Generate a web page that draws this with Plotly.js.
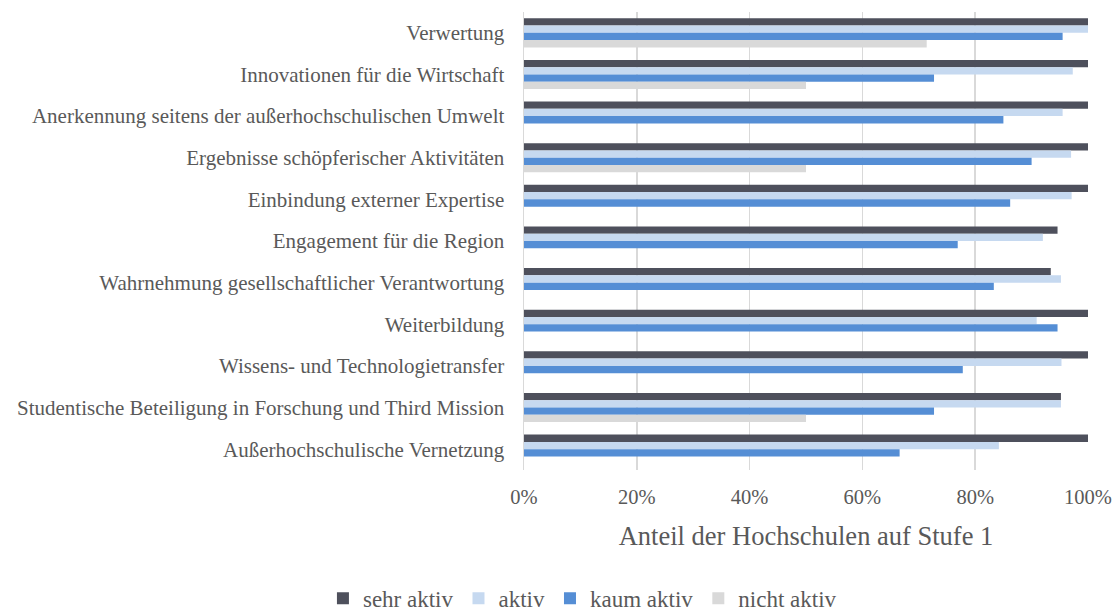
<!DOCTYPE html>
<html>
<head>
<meta charset="utf-8">
<script src="https://cdn.plot.ly/plotly-3.0.1.min.js"></script>
<style>html,body{margin:0;padding:0;background:#fff;}#chart{width:1119px;height:615px;}</style>
</head>
<body>
<div id="chart"></div>
<script>
const categories = [
  "Verwertung",
  "Innovationen für die Wirtschaft",
  "Anerkennung seitens der außerhochschulischen Umwelt",
  "Ergebnisse schöpferischer Aktivitäten",
  "Einbindung externer Expertise",
  "Engagement für die Region",
  "Wahrnehmung gesellschaftlicher Verantwortung",
  "Weiterbildung",
  "Wissens- und Technologietransfer",
  "Studentische Beteiligung in Forschung und Third Mission",
  "Außerhochschulische Vernetzung"
];
const seriesNames = ["sehr aktiv", "aktiv", "kaum aktiv", "nicht aktiv"];
const sehrAktiv  = [1.000, 1.000, 1.000, 1.000, 1.000, 0.946, 0.934, 1.000, 1.000, 0.952, 1.000];
const aktiv      = [1.000, 0.973, 0.955, 0.970, 0.971, 0.920, 0.952, 0.909, 0.953, 0.952, 0.842];
const kaumAktiv  = [0.955, 0.727, 0.850, 0.900, 0.862, 0.769, 0.833, 0.946, 0.778, 0.727, 0.666];
const nichtAktiv = [0.714, 0.500, 0.000, 0.500, 0.000, 0.000, 0.000, 0.000, 0.000, 0.500, 0.000];
const xTickVals = [0, 0.2, 0.4, 0.6, 0.8, 1.0];
const xTickText = ["0%", "20%", "40%", "60%", "80%", "100%"];

const colors = ["#4e505c", "#c6d9f0", "#558ed5", "#d9d9d9"];
const values = [sehrAktiv, aktiv, kaumAktiv, nichtAktiv];

const traces = values.map((v, i) => ({
  type: "bar",
  orientation: "h",
  name: seriesNames[i],
  y: categories,
  x: v,
  marker: {color: colors[i], line: {width: 0}},
  hoverinfo: "none"
}));

const font = "Liberation Serif, Times New Roman, serif";
const layout = {
  width: 1119,
  height: 615,
  margin: {l: 524, r: 31, t: 12, b: 145, autoexpand: false},
  paper_bgcolor: "#ffffff",
  plot_bgcolor: "#ffffff",
  barmode: "group",
  bargap: 0.3,
  bargroupgap: 0,
  font: {family: font, color: "#595959"},
  showlegend: true,
  xaxis: {
    range: [0, 1],
    tickvals: xTickVals,
    ticktext: xTickText,
    showgrid: true,
    gridcolor: "#d9d9d9",
    gridwidth: 1.5,
    zeroline: false,
    showline: false,
    ticks: "",
    ticklabelstandoff: 12,
    tickfont: {family: font, size: 20.5, color: "#595959"},
    title: {text: "Anteil der Hochschulen auf Stufe 1", font: {family: font, size: 26.5, color: "#595959"}, standoff: 19},
    fixedrange: true
  },
  yaxis: {
    autorange: "reversed",
    showline: true,
    linecolor: "#d9d9d9",
    linewidth: 1.5,
    showgrid: false,
    ticks: "",
    ticklabelstandoff: 14,
    tickfont: {family: font, size: 21, color: "#595959"},
    fixedrange: true
  },
  legend: {
    orientation: "h",
    xref: "container",
    yref: "paper",
    x: 0.5205,
    xanchor: "center",
    y: -0.28,
    yanchor: "middle",
    font: {family: font, size: 23, color: "#595959"},
    traceorder: "normal",
    itemwidth: 30
  }
};

Plotly.newPlot("chart", traces, layout, {displayModeBar: false, staticPlot: true});
</script>
</body>
</html>
